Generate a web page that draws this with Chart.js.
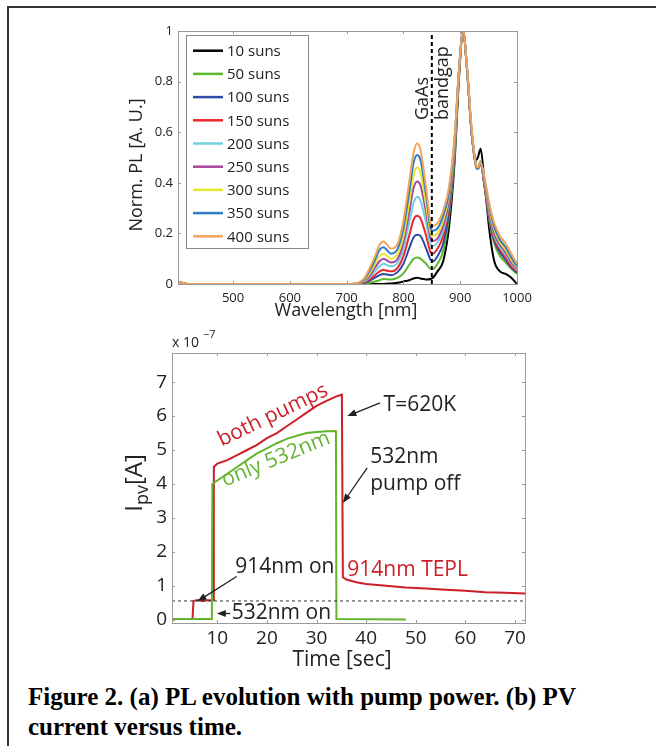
<!DOCTYPE html>
<html>
<head>
<meta charset="utf-8">
<script src="https://cdn.jsdelivr.net/npm/chart.js@4.4.1/dist/chart.umd.min.js"></script>
<style>
body{margin:0;background:#fff;width:656px;height:746px;overflow:hidden;position:relative;font-family:"Open Sans",sans-serif}
#frameTop{position:absolute;left:7px;top:6px;width:649px;height:2px;background:#333}
#frameLeft{position:absolute;left:7px;top:6px;width:2px;height:740px;background:#333}
#c1{position:absolute;left:0;top:0}
#c2{position:absolute;left:0;top:330px}
#caption{position:absolute;left:28px;top:682px;font:bold 25px/30px "Liberation Serif","Times New Roman",serif;color:#000;white-space:nowrap}
</style>
</head>
<body>
<div id="frameTop"></div>
<div id="frameLeft"></div>
<canvas id="c1" width="656" height="340"></canvas>
<canvas id="c2" width="656" height="345"></canvas>
<div id="caption">Figure 2. (a) PL evolution with pump power. (b) PV<br>current versus time.</div>
<script>
// (a) normalized PL spectra
const wavelength = [403, 420, 500, 600, 700, 720, 730, 740, 750, 758, 765, 778, 790, 800, 810, 818, 824, 830, 840, 848, 852, 860, 870, 880, 890, 898, 905, 912, 920, 928, 931, 936, 942, 952, 960, 970, 980, 990, 1000];
const sunLabels = ["10 suns", "50 suns", "100 suns", "150 suns", "200 suns", "250 suns", "300 suns", "350 suns", "400 suns"];
const sunColors = ["#000000", "#5cb82e", "#2f4aa8", "#e8262b", "#72cfe0", "#a8479e", "#e6e62c", "#2f7cc4", "#f2a35c"];
const pl10  = [0.01,0,0,0,0,0,0,0,0,0,0,0.002,0.005,0.01,0.015,0.022,0.025,0.022,0.018,0.02,0.025,0.05,0.09,0.22,0.48,0.82,1.0,0.85,0.6,0.49,0.5,0.535,0.42,0.2,0.09,0.05,0.04,0.025,0.0];
const pl50  = [0.004,0,0,0,0,0,0.001,0.005,0.01,0.015,0.02,0.018,0.025,0.042,0.075,0.1,0.105,0.1,0.08,0.06,0.06,0.08,0.13,0.26,0.5,0.83,1.0,0.85,0.6,0.47,0.46,0.485,0.40,0.24,0.16,0.11,0.085,0.06,0.04];
const pl100 = [0.004,0,0,0,0,0.001,0.003,0.012,0.025,0.035,0.04,0.035,0.048,0.08,0.14,0.185,0.195,0.19,0.14,0.095,0.09,0.11,0.16,0.28,0.52,0.84,1.0,0.85,0.6,0.465,0.455,0.48,0.40,0.25,0.17,0.125,0.095,0.065,0.045];
const pl150 = [0.005,0,0,0,0,0.001,0.005,0.018,0.035,0.05,0.055,0.05,0.065,0.11,0.19,0.255,0.27,0.26,0.19,0.125,0.12,0.14,0.19,0.30,0.53,0.84,1.0,0.85,0.6,0.465,0.455,0.48,0.40,0.26,0.18,0.135,0.105,0.07,0.05];
const pl200 = [0.006,0,0,0,0,0.002,0.008,0.025,0.05,0.07,0.08,0.07,0.085,0.14,0.24,0.32,0.345,0.33,0.24,0.155,0.15,0.165,0.21,0.32,0.54,0.85,1.0,0.85,0.6,0.465,0.455,0.48,0.41,0.27,0.19,0.145,0.115,0.08,0.055];
const pl250 = [0.007,0,0,0,0,0.002,0.01,0.03,0.065,0.09,0.10,0.085,0.10,0.165,0.28,0.38,0.405,0.39,0.28,0.18,0.17,0.18,0.23,0.33,0.55,0.85,1.0,0.85,0.6,0.465,0.455,0.475,0.41,0.28,0.2,0.155,0.125,0.085,0.06];
const pl300 = [0.008,0,0,0,0,0.003,0.012,0.04,0.08,0.11,0.12,0.10,0.12,0.19,0.32,0.43,0.46,0.44,0.31,0.2,0.19,0.2,0.25,0.35,0.56,0.85,1.0,0.85,0.61,0.465,0.455,0.475,0.42,0.29,0.215,0.165,0.135,0.095,0.065];
const pl350 = [0.009,0,0,0,0,0.004,0.015,0.05,0.095,0.135,0.145,0.12,0.14,0.22,0.36,0.48,0.51,0.49,0.35,0.22,0.21,0.22,0.27,0.36,0.57,0.85,1.0,0.85,0.61,0.465,0.455,0.475,0.42,0.30,0.225,0.175,0.145,0.105,0.07];
const pl400 = [0.01,0,0,0,0,0.005,0.02,0.06,0.11,0.155,0.168,0.14,0.16,0.25,0.40,0.52,0.555,0.53,0.38,0.24,0.23,0.24,0.29,0.38,0.58,0.85,1.0,0.86,0.62,0.47,0.46,0.48,0.43,0.31,0.24,0.19,0.16,0.12,0.08];
const plSeries = [pl10, pl50, pl100, pl150, pl200, pl250, pl300, pl350, pl400];
const wlTicks = [500, 600, 700, 800, 900, 1000];
const plTicks = [0, 0.2, 0.4, 0.6, 0.8, 1];
const bandgapWl = 850;

// (b) PV current (units of 1e-7 A)
const timeBoth = [0.87, 5.0, 5.2, 6, 7, 8, 9.2, 9.3, 10, 12, 14, 16, 18, 20, 22, 24, 26, 28, 30, 32, 34, 35.1, 35.3, 36, 38, 40, 44, 48, 52, 56, 60, 64, 68, 72];
const ipvBoth  = [0.02, 0.02, 0.55, 0.58, 0.55, 0.57, 0.57, 4.5, 4.6, 4.7, 4.85, 5.0, 5.15, 5.35, 5.5, 5.7, 5.9, 6.1, 6.3, 6.45, 6.58, 6.63, 1.25, 1.18, 1.1, 1.05, 1.0, 0.95, 0.92, 0.88, 0.85, 0.81, 0.79, 0.77];
const time532  = [0.87, 8.9, 9.0, 10, 12, 14, 16, 18, 20, 22, 24, 26, 28, 30, 32, 33.9, 34.0, 48];
const ipv532   = [0.02, 0.02, 4.0, 4.1, 4.3, 4.5, 4.7, 4.9, 5.05, 5.2, 5.33, 5.42, 5.5, 5.53, 5.55, 5.56, 0.02, 0.0];
const tepl914Level = 0.55;
const timeTicks = [10, 20, 30, 40, 50, 60, 70];
const ipvTicks = [0, 1, 2, 3, 4, 5, 6, 7];

const FONT = '"Open Sans", sans-serif';
const AXIS_GREY = "#9a9a9a";

function boxPlugin(xTicks, yTicks, len) {
    return {
        id: "box",
        afterDraw(chart) {
            const { ctx, chartArea: a, scales } = chart;
            ctx.save();
            ctx.strokeStyle = AXIS_GREY;
            ctx.lineWidth = 1;
            ctx.strokeRect(a.left + 0.5, a.top + 0.5, a.right - a.left, a.bottom - a.top);
            ctx.beginPath();
            xTicks.forEach(v => {
                const x = Math.round(scales.x.getPixelForValue(v)) + 0.5;
                ctx.moveTo(x, a.bottom); ctx.lineTo(x, a.bottom - len);
                ctx.moveTo(x, a.top); ctx.lineTo(x, a.top + len);
            });
            yTicks.forEach(v => {
                const y = Math.round(scales.y.getPixelForValue(v)) + 0.5;
                ctx.moveTo(a.left, y); ctx.lineTo(a.left + len, y);
                ctx.moveTo(a.right, y); ctx.lineTo(a.right - len, y);
            });
            ctx.stroke();
            ctx.restore();
        }
    };
}

function arrow(ctx, x1, y1, x2, y2) {
    const ang = Math.atan2(y2 - y1, x2 - x1);
    ctx.beginPath();
    ctx.moveTo(x1, y1);
    ctx.lineTo(x2 - 6 * Math.cos(ang), y2 - 6 * Math.sin(ang));
    ctx.stroke();
    ctx.beginPath();
    ctx.moveTo(x2, y2);
    ctx.lineTo(x2 - 9 * Math.cos(ang) + 3.5 * Math.sin(ang), y2 - 9 * Math.sin(ang) - 3.5 * Math.cos(ang));
    ctx.lineTo(x2 - 9 * Math.cos(ang) - 3.5 * Math.sin(ang), y2 - 9 * Math.sin(ang) + 3.5 * Math.cos(ang));
    ctx.closePath();
    ctx.fill();
}

const plLabels = {
    id: "plLabels",
    afterDraw(chart) {
        const { ctx, scales } = chart;
        const sx = scales.x, sy = scales.y;
        ctx.save();
        ctx.fillStyle = "#222";
        // axis titles
        ctx.font = "18px " + FONT;
        ctx.textAlign = "center";
        ctx.textBaseline = "middle";
        ctx.fillText("Wavelength [nm]", 346, 311);
        ctx.save();
        ctx.translate(137, 165);
        ctx.rotate(-Math.PI / 2);
        ctx.fillText("Norm. PL [A. U.]", 0, 0);
        ctx.restore();
        // GaAs bandgap
        ctx.font = "18px " + FONT;
        ctx.textAlign = "left";
        ctx.textBaseline = "alphabetic";
        [["GaAs", 843], ["bandgap", 879]].forEach(([t, wl]) => {
            ctx.save();
            ctx.translate(sx.getPixelForValue(wl), sy.getPixelForValue(0.648));
            ctx.rotate(-Math.PI / 2);
            ctx.fillText(t, 0, 0);
            ctx.restore();
        });
        // legend
        const bx = 186, by = 35, bw = 122, bh = 213;
        ctx.fillStyle = "#fff";
        ctx.fillRect(bx, by, bw, bh);
        ctx.strokeStyle = "#8a8a8a";
        ctx.lineWidth = 1;
        ctx.strokeRect(bx + 0.5, by + 0.5, bw, bh);
        ctx.font = "15px " + FONT;
        ctx.textBaseline = "middle";
        ctx.textAlign = "left";
        chart.data.datasets.slice(0, sunLabels.length).forEach((ds, i) => {
            const y = 50.7 + i * 23.2;
            ctx.strokeStyle = ds.borderColor;
            ctx.lineWidth = 2.5;
            ctx.beginPath();
            ctx.moveTo(193, y); ctx.lineTo(223, y);
            ctx.stroke();
            ctx.fillStyle = "#222";
            ctx.fillText(ds.label, 227, y + 1);
        });
        ctx.restore();
    }
};

const pvLabels = {
    id: "pvLabels",
    afterDraw(chart) {
        const { ctx, scales } = chart;
        const P = (t, v) => [scales.x.getPixelForValue(t), scales.y.getPixelForValue(v)];
        ctx.save();
        ctx.fillStyle = "#222";
        ctx.strokeStyle = "#222";
        ctx.lineWidth = 1.3;
        // axis titles
        ctx.font = "21px " + FONT;
        ctx.textAlign = "center";
        ctx.textBaseline = "middle";
        ctx.fillText("Time [sec]", 342, 330);
        ctx.save();
        ctx.translate(142, 153);
        ctx.rotate(-Math.PI / 2);
        ctx.textBaseline = "alphabetic";
        ctx.textAlign = "left";
        const big = "24px " + FONT, small = "18px " + FONT;
        ctx.font = big; const wI = ctx.measureText("I").width;
        ctx.font = small; const wS = ctx.measureText("pv").width;
        ctx.font = big; const wA = ctx.measureText("[A]").width;
        let x0 = -(wI + wS + wA) / 2;
        ctx.font = big; ctx.fillText("I", x0, 0);
        ctx.font = small; ctx.fillText("pv", x0 + wI, 6);
        ctx.font = big; ctx.fillText("[A]", x0 + wI + wS, 0);
        ctx.restore();
        // exponent
        ctx.textAlign = "left";
        ctx.font = "14px " + FONT;
        ctx.fillText("x 10", 172, 13);
        ctx.font = "11px " + FONT;
        ctx.fillText("\u22127", 203, 5);
        // annotations
        ctx.font = "21px " + FONT;
        ctx.textAlign = "left";
        ctx.textBaseline = "middle";
        let p = P(43.5, 6.33); ctx.fillText("T=620K", p[0], p[1]);
        p = P(40.8, 4.8); ctx.fillText("532nm", p[0], p[1]);
        p = P(40.8, 4.0); ctx.fillText("pump off", p[0], p[1]);
        p = P(13.6, 1.56); ctx.fillText("914nm on", p[0], p[1]);
        p = P(12.9, 0.18); ctx.fillText("532nm on", p[0], p[1]);
        ctx.fillStyle = "#cc1f27";
        p = P(36.2, 1.47); ctx.fillText("914nm TEPL", p[0], p[1]);
        ctx.fillStyle = "#222";
        let a = P(42.8, 6.39), b = P(36.2, 6.0); arrow(ctx, a[0], a[1], b[0], b[1]);
        a = P(40.2, 4.47); b = P(35.3, 3.44); arrow(ctx, a[0], a[1], b[0], b[1]);
        a = P(13.9, 1.27); b = P(6.0, 0.54); arrow(ctx, a[0], a[1], b[0], b[1]);
        a = P(12.6, 0.18); b = P(9.9, 0.18); arrow(ctx, a[0], a[1], b[0], b[1]);
        // rotated series labels
        ctx.textBaseline = "alphabetic";
        ctx.font = "21px " + FONT;
        p = P(10.9, 5.1);
        ctx.save(); ctx.translate(p[0], p[1]); ctx.rotate(-25.8 * Math.PI / 180);
        ctx.fillStyle = "#cc1f27"; ctx.fillText("both pumps", 0, 0); ctx.restore();
        p = P(11.55, 3.92);
        ctx.save(); ctx.translate(p[0], p[1]); ctx.rotate(-22.4 * Math.PI / 180);
        ctx.fillStyle = "#63b32e"; ctx.fillText("only 532nm", 0, 0); ctx.restore();
        ctx.restore();
    }
};

function fixedTicks(list) {
    return scale => { scale.ticks = list.map(v => ({ value: v })); };
}

const plDatasets = sunLabels.map((label, i) => ({
    label: label,
    data: wavelength.map((w, j) => ({ x: w, y: plSeries[i][j] })),
    borderColor: sunColors[i],
    borderWidth: 2,
    pointRadius: 0,
    cubicInterpolationMode: "monotone",
    order: sunLabels.length - i
}));
plDatasets.push({
    label: "bandgap",
    data: [{ x: bandgapWl, y: 0 }, { x: bandgapWl, y: 1 }],
    borderColor: "#000",
    borderWidth: 2,
    borderDash: [4, 3],
    pointRadius: 0,
    order: 0
});

new Chart(document.getElementById("c1"), {
    type: "line",
    data: { datasets: plDatasets },
    options: {
        responsive: false,
        animation: false,
        devicePixelRatio: 1,
        layout: { padding: { left: 0, top: 31, right: 139, bottom: 0 } },
        plugins: { legend: { display: false }, tooltip: { enabled: false } },
        scales: {
            x: {
                type: "linear", min: 403, max: 1000,
                afterBuildTicks: fixedTicks(wlTicks),
                afterFit: s => { s.height = 56; },
                grid: { display: false, drawTicks: false },
                border: { display: false },
                ticks: { color: "#222", font: { family: FONT, size: 13 }, padding: 6, maxRotation: 0, autoSkip: false,
                    callback: v => String(v) }
            },
            y: {
                type: "linear", min: 0, max: 1,
                afterBuildTicks: fixedTicks(plTicks),
                afterFit: s => { s.width = 178; },
                grid: { display: false, drawTicks: false },
                border: { display: false },
                ticks: { color: "#222", font: { family: FONT, size: 13 }, padding: 5,
                    callback: v => (v === 0 || v === 1) ? String(v) : v.toFixed(1) }
            }
        }
    },
    plugins: [boxPlugin(wlTicks, plTicks, 3), plLabels]
});

new Chart(document.getElementById("c2"), {
    type: "line",
    data: {
        datasets: [
            { label: "only 532nm", data: time532.map((t, i) => ({ x: t, y: ipv532[i] })),
              borderColor: "#63b32e", borderWidth: 2, pointRadius: 0, tension: 0, order: 1 },
            { label: "both pumps", data: timeBoth.map((t, i) => ({ x: t, y: ipvBoth[i] })),
              borderColor: "#cc1f27", borderWidth: 2, pointRadius: 0, tension: 0, order: 2 },
            { label: "914nm level", data: [{ x: 0.87, y: tepl914Level }, { x: 72, y: tepl914Level }],
              borderColor: "#333", borderWidth: 1, borderDash: [3, 3], pointRadius: 0, order: 0 }
        ]
    },
    options: {
        responsive: false,
        animation: false,
        devicePixelRatio: 1,
        layout: { padding: { left: 0, top: 23, right: 131, bottom: 0 } },
        plugins: { legend: { display: false }, tooltip: { enabled: false } },
        scales: {
            x: {
                type: "linear", min: 0.87, max: 72,
                afterBuildTicks: fixedTicks(timeTicks),
                afterFit: s => { s.height = 52; },
                grid: { display: false, drawTicks: false },
                border: { display: false },
                ticks: { color: "#222", font: { family: FONT, size: 19 }, padding: 4, maxRotation: 0, autoSkip: false }
            },
            y: {
                type: "linear", min: -0.1, max: 7.86,
                afterBuildTicks: fixedTicks(ipvTicks),
                afterFit: s => { s.width = 172; },
                grid: { display: false, drawTicks: false },
                border: { display: false },
                ticks: { color: "#222", font: { family: FONT, size: 19 }, padding: 5 }
            }
        }
    },
    plugins: [boxPlugin(timeTicks, ipvTicks, 3), pvLabels]
});
</script>
</body>
</html>
